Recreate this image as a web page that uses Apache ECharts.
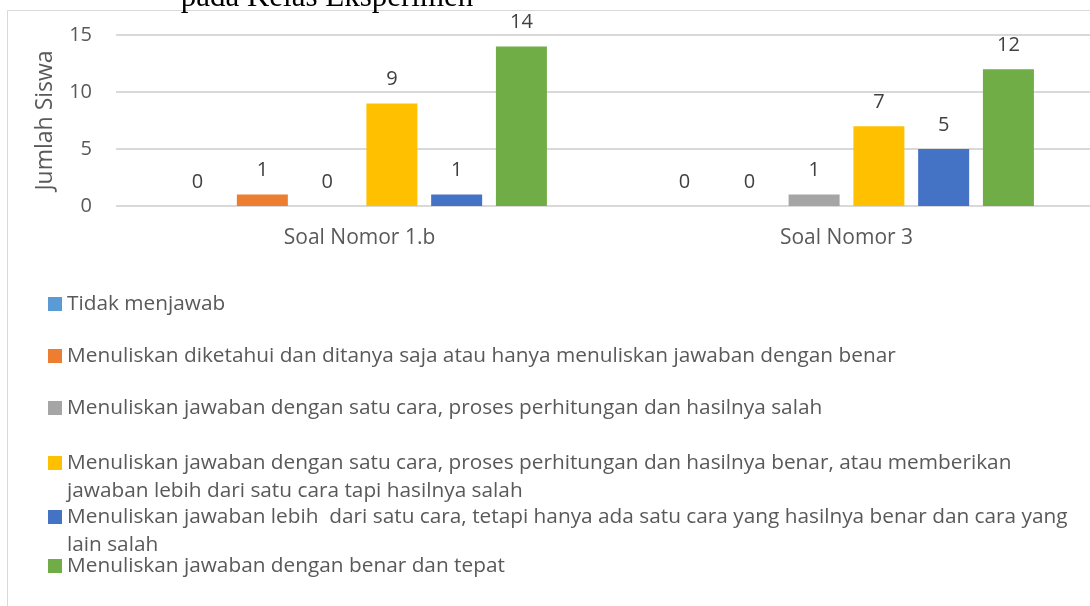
<!DOCTYPE html>
<html>
<head>
<meta charset="utf-8">
<script src="https://cdn.jsdelivr.net/npm/echarts@6/dist/echarts.min.js"></script>
<style>
html,body{margin:0;padding:0;background:#fff;}
#c{width:1090px;height:606px;}
</style>
</head>
<body>
<div id="c"></div>
<script>
const categories = ['Soal Nomor 1.b', 'Soal Nomor 3'];
const seriesNames = [
  'Tidak menjawab',
  'Menuliskan diketahui dan ditanya saja atau hanya menuliskan jawaban dengan benar',
  'Menuliskan jawaban dengan satu cara, proses perhitungan dan hasilnya salah',
  'Menuliskan jawaban dengan satu cara, proses perhitungan dan hasilnya benar, atau memberikan\njawaban lebih dari satu cara tapi hasilnya salah',
  'Menuliskan jawaban lebih  dari satu cara, tetapi hanya ada satu cara yang hasilnya benar dan cara yang\nlain salah',
  'Menuliskan jawaban dengan benar dan tepat'
];
const tidakMenjawab = [0, 0];
const diketahuiDitanya = [1, 0];
const satuCaraSalah = [0, 1];
const satuCaraBenar = [9, 7];
const lebihSatuCara = [1, 5];
const benarTepat = [14, 12];
const yTicks = [0, 5, 10, 15];
const titleText = 'pada Kelas Eksperimen';

const values = [tidakMenjawab, diketahuiDitanya, satuCaraSalah, satuCaraBenar, lebihSatuCara, benarTepat];
const colors = ['#5B9BD5', '#ED7D31', '#A5A5A5', '#FFC000', '#4472C4', '#70AD47'];
const legendCenters = [304, 356, 408, 463, 517, 566];
const FONT = '"Open Sans", sans-serif';
const LH = 28;

const legends = seriesNames.map((name, i) => {
  const wrapped = name.indexOf('\n') >= 0;
  return {
    data: [name],
    orient: 'vertical',
    left: 48,
    top: wrapped ? legendCenters[i] - (LH * 3) / 2 : legendCenters[i] - LH / 2,
    padding: 0,
    itemWidth: 14,
    itemHeight: 14,
    icon: 'rect',
    formatter: wrapped ? function (n) { return '\n' + n; } : '{name}',
    textStyle: {
      fontFamily: FONT,
      fontSize: 20.8,
      color: '#595959',
      lineHeight: LH
    }
  };
});

const series = seriesNames.map((name, i) => ({
  name: name,
  type: 'bar',
  data: values[i],
  barWidth: 51,
  barGap: '27%',
  itemStyle: { color: colors[i] },
  label: {
    show: true,
    position: 'top',
    distance: 14,
    fontFamily: FONT,
    fontSize: 20,
    color: '#404040'
  }
}));

const chart = echarts.init(document.getElementById('c'), null, { renderer: 'canvas' });
chart.setOption({
  animation: false,
  backgroundColor: '#ffffff',
  graphic: [
    {
      type: 'rect',
      shape: { x: 7.5, y: 10.5, width: 1200, height: 800 },
      style: { fill: 'none', stroke: '#d9d9d9', lineWidth: 1 },
      z: -10
    },
    {
      type: 'text',
      x: 327,
      y: -2,
      style: {
        text: titleText,
        fontFamily: '"Liberation Serif", "Times New Roman", serif',
        fontSize: 31,
        fill: '#000000',
        align: 'center',
        verticalAlign: 'middle'
      }
    }
  ],
  legend: legends,
  grid: { left: 116, right: -2, top: 35, bottom: 400 },
  xAxis: {
    type: 'category',
    data: categories,
    axisLine: { show: false },
    axisTick: { show: false },
    axisLabel: { fontFamily: FONT, fontSize: 21, color: '#595959', margin: 22 }
  },
  yAxis: {
    type: 'value',
    min: yTicks[0],
    max: yTicks[yTicks.length - 1],
    interval: 5,
    axisLine: { show: false },
    axisTick: { show: false },
    axisLabel: { fontFamily: FONT, fontSize: 20, color: '#595959', margin: 24 },
    splitLine: { lineStyle: { color: '#d9d9d9', width: 2 } },
    name: 'Jumlah Siswa',
    nameLocation: 'middle',
    nameGap: 59,
    nameTextStyle: { fontFamily: FONT, fontSize: 23, color: '#595959' }
  },
  series: series
});
</script>
</body>
</html>
